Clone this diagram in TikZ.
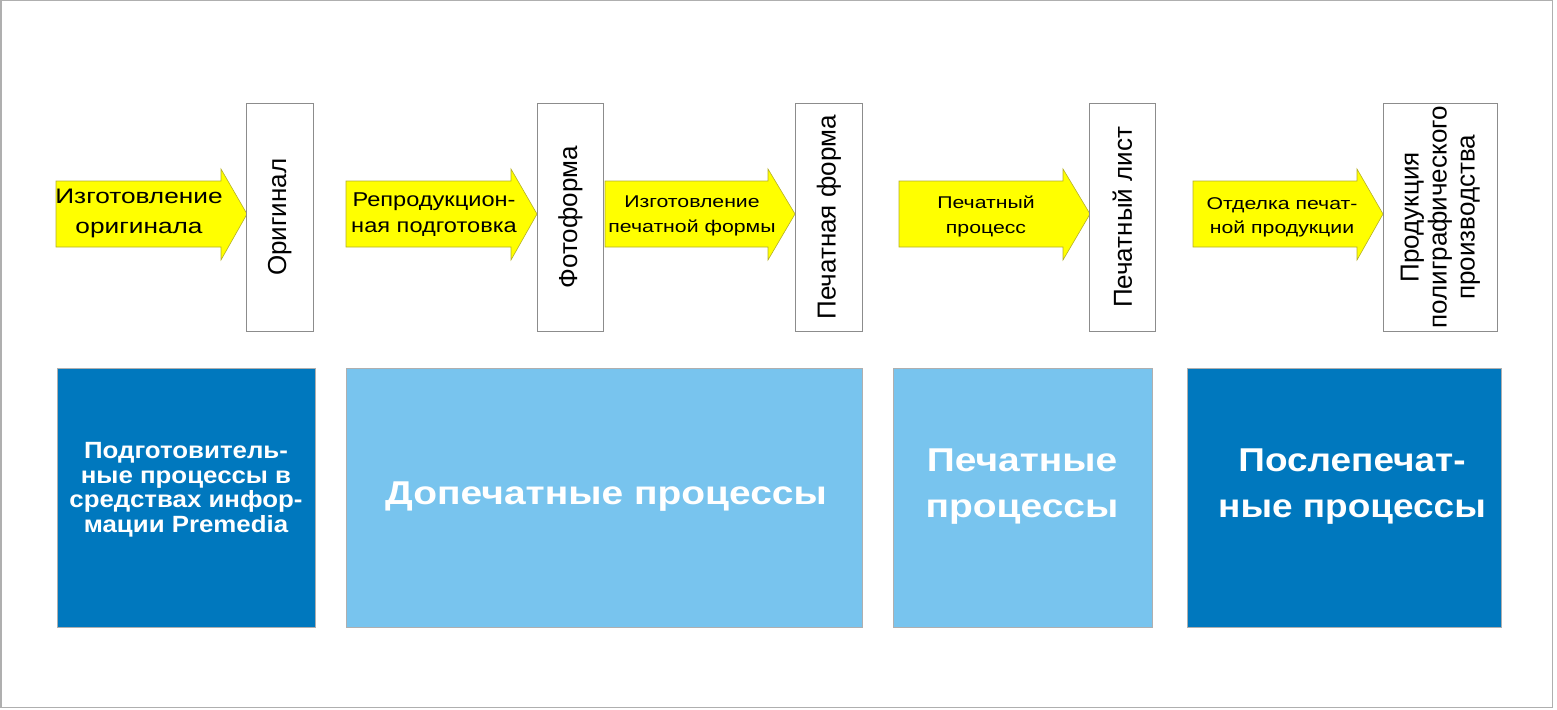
\documentclass[tikz,border=0pt]{standalone}
\usepackage{fontspec}
\setmainfont{Liberation Sans}
\newfontfamily\widea[FakeStretch=1.25]{Liberation Sans}
\newfontfamily\wideb[FakeStretch=1.18]{Liberation Sans}
\newfontfamily\widec[FakeStretch=1.12]{Liberation Sans}
\newfontfamily\wided[FakeStretch=1.1]{Liberation Sans}
\definecolor{darkblue}{RGB}{0,120,190}
\definecolor{lightblue}{RGB}{120,196,238}
\definecolor{arrowyellow}{RGB}{255,255,0}
\definecolor{arrowedge}{RGB}{180,175,40}
\definecolor{boxedge}{RGB}{140,140,140}
\definecolor{frameedge}{RGB}{175,175,175}
\begin{document}
\begin{tikzpicture}[x=1pt,y=-1pt,
  flowarrow/.style={fill=arrowyellow,draw=arrowedge,line width=0.6pt},
  arrowtext/.style={align=center,inner sep=0pt,text=black},
  stagebox/.style={draw=boxedge,fill=white,line width=0.7pt,anchor=north west,inner sep=0pt},
  stagetext/.style={rotate=90,align=center,inner sep=0pt,font=\fontsize{26}{28}\selectfont},
  phasebox/.style={draw=boxedge!70,line width=0.5pt,anchor=north west,inner sep=0pt},
  phasetext/.style={align=center,inner sep=0pt,text=white}
]
\useasboundingbox (0,0) rectangle (1557,709);
\draw[frameedge,line width=1.2pt] (1,0.6) rectangle (1552.5,707.5);

\newcommand{\flowshape}[3]{%
  \draw[flowarrow] (#1,181) -- (#2,181) -- (#2,169) -- (#3,214) -- (#2,260) -- (#2,247) -- (#1,247) -- cycle;}

% arrows
\flowshape{56}{221}{247}
\flowshape{346}{511}{537}
\flowshape{605}{768}{795}
\flowshape{899}{1063}{1090}
\flowshape{1193}{1357}{1383}

\node[arrowtext,font=\widea\fontsize{21}{30}\selectfont] (a1) at (139,213) {Изготовление\\оригинала};
\node[arrowtext,font=\wideb\fontsize{20}{26}\selectfont] (a2) at (434,215) {Репродукцион-\\ная подготовка};
\node[arrowtext,font=\widea\fontsize{17}{25}\selectfont] (a3) at (692,216) {Изготовление\\печатной формы};
\node[arrowtext,font=\widea\fontsize{17}{25}\selectfont] (a4) at (986,216) {Печатный\\процесс};
\node[arrowtext,font=\widea\fontsize{17}{24}\selectfont] (a5) at (1282,217) {Отделка печат-\\ной продукции};

% vertical stage boxes
\node[stagebox,minimum width=67pt,minimum height=228pt] (b1) at (246,103) {};
\node[stagebox,minimum width=66pt,minimum height=228pt] (b2) at (537,103) {};
\node[stagebox,minimum width=67pt,minimum height=228pt] (b3) at (795,103) {};
\node[stagebox,minimum width=66pt,minimum height=228pt] (b4) at (1089,103) {};
\node[stagebox,minimum width=114pt,minimum height=228pt] (b5) at (1383,103) {};

\node[stagetext] (t1) at (b1.center) {Оригинал};
\node[stagetext] (t2) at (b2.center) {Фотоформа};
\node[stagetext] (t3) at (b3.center) {Печатная форма};
\node[stagetext] (t4) at (b4.center) {Печатный лист};
\node[stagetext] (t5) at (b5.center) {Продукция\\полиграфического\\производства};

% phase boxes
\node[phasebox,fill=darkblue,minimum width=258pt,minimum height=259pt] (p1) at (57,368) {};
\node[phasebox,fill=lightblue,minimum width=516pt,minimum height=259pt] (p2) at (346,368) {};
\node[phasebox,fill=lightblue,minimum width=259pt,minimum height=259pt] (p3) at (893,368) {};
\node[phasebox,fill=darkblue,minimum width=314pt,minimum height=259pt] (p4) at (1187,368) {};

\node[phasetext,font=\wided\bfseries\fontsize{23.5}{24.5}\selectfont] (q1) at (186,490) {Подготовитель-\\ные процессы в\\средствах инфор-\\мации Premedia};
\node[phasetext,font=\wideb\bfseries\fontsize{33}{40}\selectfont] (q2) at (606,497) {Допечатные процессы};
\node[phasetext,font=\wideb\bfseries\fontsize{33}{46}\selectfont] (q3) at (1022,487) {Печатные\\процессы};
\node[phasetext,font=\widec\bfseries\fontsize{33}{46}\selectfont] (q4) at (1352,487) {Послепечат-\\ные процессы};
\end{tikzpicture}
\end{document}
